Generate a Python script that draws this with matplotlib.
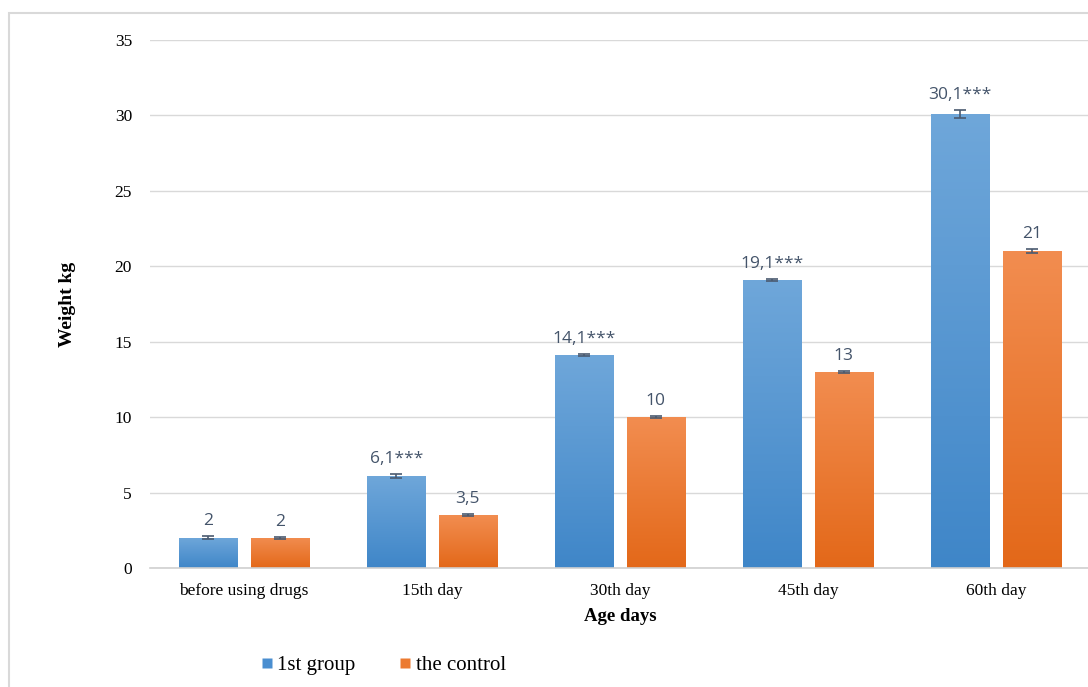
import numpy as np
import matplotlib
matplotlib.use("Agg")
import matplotlib.pyplot as plt
from matplotlib.colors import LinearSegmentedColormap
from matplotlib.patches import Rectangle
from matplotlib.lines import Line2D

# weight of animals by age
categories = ["before using drugs", "15th day", "30th day", "45th day", "60th day"]
group1 = [2, 6.1, 14.1, 19.1, 30.1]
control = [2, 3.5, 10, 13, 21]
group1_err = [0.1, 0.15, 0.08, 0.08, 0.25]
control_err = [0.08, 0.08, 0.05, 0.05, 0.15]
group1_labels = ["2", "6,1***", "14,1***", "19,1***", "30,1***"]
control_labels = ["2", "3,5", "10", "13", "21"]

serif = "Liberation Serif"
label_font = "Open Sans"
label_color = "#44546A"

fig = plt.figure(figsize=(10.88, 6.87), dpi=100)
ax = fig.add_axes([0.1379, 0.1732, 0.864, 0.7686])

x = np.arange(len(categories))
w = 0.31
off = 0.19

blue_cmap = LinearSegmentedColormap.from_list("b", ["#3F86C8", "#6FA7DA"])
orange_cmap = LinearSegmentedColormap.from_list("o", ["#E36819", "#F28D50"])


def gradient_bars(xs, vals, cmap):
    bars = ax.bar(xs, vals, w, color="none", edgecolor="none", zorder=2)
    grad = np.linspace(0, 1, 256).reshape(-1, 1)
    for b in bars:
        x0, y0 = b.get_x(), b.get_y()
        im = ax.imshow(grad, cmap=cmap, origin="lower", aspect="auto",
                       extent=[x0, x0 + b.get_width(), y0, y0 + b.get_height()],
                       zorder=2)
        im.set_clip_path(b)
    return bars


gradient_bars(x - off, group1, blue_cmap)
gradient_bars(x + off, control, orange_cmap)

for xs, vals, errs in [(x - off, group1, group1_err), (x + off, control, control_err)]:
    ax.errorbar(xs, vals, yerr=errs, fmt="none", ecolor="#4A5A70",
                elinewidth=1.2, capsize=4, capthick=1.2, zorder=3)

for xs, vals, errs, texts in [(x - off, group1, group1_err, group1_labels),
                              (x + off, control, control_err, control_labels)]:
    for xi, v, e, t in zip(xs, vals, errs, texts):
        ax.annotate(t, (xi, v + e), xytext=(0, 5), textcoords="offset points",
                    ha="center", va="bottom", fontsize=12.5, color=label_color,
                    family=label_font)

ax.set_xlim(-0.5, len(categories) - 0.5)
ax.set_ylim(0, 35)
ax.set_yticks(range(0, 36, 5))
ax.set_xticks(x)
ax.set_xticklabels(categories, fontsize=12.5, family=serif)
for lab in ax.get_yticklabels():
    lab.set_family(serif)
    lab.set_fontsize(12.5)
ax.tick_params(axis="both", length=0, colors="black")
ax.tick_params(axis="y", pad=13)
ax.tick_params(axis="x", pad=11)

ax.grid(axis="y", color="#D9D9D9", linewidth=1, zorder=0)
ax.set_axisbelow(True)
for s in ["top", "right", "left"]:
    ax.spines[s].set_visible(False)
ax.spines["bottom"].set_color("#D0D0D0")
ax.spines["bottom"].set_linewidth(1.2)

ax.set_ylabel("Weight kg", fontsize=14, fontweight="bold", family=serif,
              labelpad=28)
ax.set_xlabel("Age days", fontsize=13.5, fontweight="bold", family=serif,
              labelpad=6)

handles = [
    Line2D([], [], marker="s", linestyle="none", markersize=7,
           markerfacecolor="#4A8ED0", markeredgecolor="none"),
    Line2D([], [], marker="s", linestyle="none", markersize=7,
           markerfacecolor="#EC7A30", markeredgecolor="none"),
]
fig.legend(handles, ["1st group", "the control"], loc="center",
           bbox_to_anchor=(382 / 1088, 1 - 665 / 687), ncol=2, frameon=False,
           prop={"family": serif, "size": 15}, handletextpad=0.1,
           columnspacing=2.0, handlelength=0.8)

# outer chart frame
fig.add_artist(Rectangle((9 / 1088, -0.1), 1.2, 1 - 13 / 687 + 0.1,
                         transform=fig.transFigure, fill=False,
                         edgecolor="#D9D9D9", linewidth=1.5))

fig.savefig("out.png", dpi=100)
